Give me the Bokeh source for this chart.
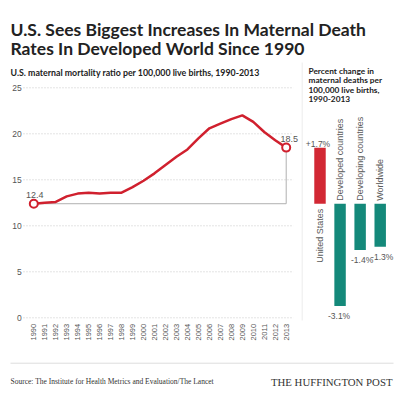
import math
from bokeh.plotting import figure
from bokeh.models import Range1d, Label, ColumnDataSource
from bokeh.core.properties import value
from bokeh.embed import file_html
from bokeh.resources import INLINE

# ---------------- data ----------------
years = list(range(1990, 2014))
us_mmr = [12.4, 12.5, 12.6, 13.2, 13.5, 13.6, 13.5, 13.6, 13.6, 14.2, 14.9, 15.7,
          16.6, 17.5, 18.3, 19.5, 20.6, 21.1, 21.6, 22.0, 21.3, 20.2, 19.3, 18.5]
y_ticks = [0, 5, 10, 15, 20, 25]

categories = ["United States", "Developed countries", "Developing countries", "Worldwide"]
pct_change = [1.7, -3.1, -1.4, -1.3]
pct_labels = ["+1.7%", "-3.1%", "-1.4%", "-1.3%"]

title_lines = ["U.S. Sees Biggest Increases In Maternal Death",
               "Rates In Developed World Since 1990"]
subtitle = "U.S. maternal mortality ratio per 100,000 live births, 1990-2013"
bar_title = ["Percent change in", "maternal deaths per", "100,000 live births,", "1990-2013"]
source_text = "Source: The Institute for Health Metrics and Evaluation/The Lancet"
brand = "THE HUFFINGTON POST"

# ---------------- layout (pixels) ----------------
W, H = 400, 394
def sx(ref_x):            # page x -> canvas x
    return ref_x
def sy(ref_y):            # page y (from top) -> canvas y from bottom
    return H - ref_y

# line chart pixel anchors
yr_px0, yr_px1 = sx(33.3), sx(285.7)
v_zero_px, v_px_per = sy(317.3), 9.2
# bar chart pixel anchors
bar_px0, bar_px1 = sx(319.5), sx(379.7)
b_zero_px, b_px_per = sy(203.3), 33.0

ppy = (yr_px1 - yr_px0) / (years[-1] - years[0])
x_start = years[0] - yr_px0 / ppy
x_end = x_start + W / ppy
y_start = -v_zero_px / v_px_per
y_end = y_start + H / v_px_per

idx = list(range(len(categories)))
ppb = (bar_px1 - bar_px0) / (idx[-1] - idx[0])
bx_start = idx[0] - bar_px0 / ppb
bx_end = bx_start + W / ppb
by_start = -b_zero_px / b_px_per
by_end = by_start + H / b_px_per

p = figure(width=W, height=H, x_range=Range1d(x_start, x_end), y_range=Range1d(y_start, y_end),
           x_axis_type=None, y_axis_type=None, toolbar_location=None, output_backend="svg",
           min_border=0, outline_line_color=None, background_fill_color="white",
           border_fill_color="white")
p.extra_x_ranges = {"bars": Range1d(bx_start, bx_end)}
p.extra_y_ranges = {"pct": Range1d(by_start, by_end)}
p.xgrid.visible = False
p.ygrid.visible = False

SANS = "Liberation Sans"
HEAD = "Lato"

# grid lines (dotted)
p.segment(x0=[years[0] - 0.94] * len(y_ticks), x1=[years[-1] + 0.67] * len(y_ticks),
          y0=y_ticks, y1=y_ticks, line_color="#c8c8c8", line_width=1, line_dash="1 2")

# y tick labels
p.text(x=[years[0]] * len(y_ticks), y=y_ticks, text=[str(t) for t in y_ticks],
       x_offset=-12, text_align="right", text_baseline="middle",
       text_font=value(SANS), text_font_size="8.5px", text_color="#555555")

# x tick labels (rotated)
p.text(x=years, y=[0] * len(years), text=[str(y) for y in years], angle=math.pi / 2,
       y_offset=6, text_align="right", text_baseline="middle",
       text_font=value(SANS), text_font_size="7.5px", text_color="#555555")

# annotation connector (gray)
p.line(x=[years[0], years[-1], years[-1]], y=[us_mmr[0], us_mmr[0], us_mmr[-1]],
       line_color="#b0b0b0", line_width=1)

# main line
p.line(x=years, y=us_mmr, line_color="#d0202e", line_width=2.5)
p.scatter(x=[years[0], years[-1]], y=[us_mmr[0], us_mmr[-1]], size=8,
          fill_color="white", line_color="#d0202e", line_width=2)
p.text(x=[years[0], years[-1]], y=[us_mmr[0], us_mmr[-1]],
       text=[f"{us_mmr[0]:.1f}", f"{us_mmr[-1]:.1f}"], x_offset=[1, 3], y_offset=-9,
       text_align="center", text_baseline="alphabetic",
       text_font=value(SANS), text_font_size="9px", text_color="#555555")

# separator line between panels
sep_x = bx_start + sx(301.7) / ppb
p.segment(x0=[sep_x], x1=[sep_x],
          y0=[by_start + sy(320) / b_px_per], y1=[by_start + sy(62) / b_px_per],
          x_range_name="bars", y_range_name="pct", line_color="#ececec", line_width=1)

# bars
bar_colors = ["#d22834" if v > 0 else "#14897a" for v in pct_change]
bsrc = ColumnDataSource(dict(
    x=idx, top=pct_change, color=bar_colors, lab=pct_labels, cat=categories,
    lab_base=["alphabetic" if v > 0 else "top" for v in pct_change],
    lab_off=[-4 if v > 0 else 5 for v in pct_change],
    lab_dx=[-2, -1, 2, 2],
    cat_align=["right" if v > 0 else "left" for v in pct_change],
    cat_off=[5 if v > 0 else -3 for v in pct_change],
))
p.vbar(x="x", top="top", bottom=0, width=0.57, fill_color="color", line_color=None,
       source=bsrc, x_range_name="bars", y_range_name="pct")
p.text(x="x", y="top", text="lab", text_baseline="lab_base", y_offset="lab_off",
       x_offset="lab_dx", text_align="center", source=bsrc,
       x_range_name="bars", y_range_name="pct",
       text_font=value(SANS), text_font_size="8.5px", text_color="#555555")
p.text(x="x", y=0, text="cat", angle=math.pi / 2, text_align="cat_align",
       text_baseline="middle", y_offset="cat_off", source=bsrc,
       x_range_name="bars", y_range_name="pct",
       text_font=value(SANS), text_font_size="9px", text_color="#5a5a5a")

# titles / texts
def add_label(txt, rx, ry, size, font, style="normal", color="#222222", align="left"):
    p.add_layout(Label(x=sx(rx), y=sy(ry), x_units="screen", y_units="screen", text=txt,
                       text_font=font, text_font_size=size, text_font_style=style,
                       text_color=color, text_align=align, text_baseline="alphabetic"))

add_label(title_lines[0], 10, 29, "17.5px", HEAD, "bold")
add_label(title_lines[1], 10, 47.7, "17.5px", HEAD, "bold")
add_label(subtitle, 10, 72, "8.8px", HEAD, "bold")
for i, t in enumerate(bar_title):
    add_label(t, 308, 70.5 + 9.3 * i, "8.3px", HEAD, "bold")
add_label(source_text, 10, 380.5, "7.5px", "Liberation Serif", color="#333333")
add_label(brand, 392, 381, "10.8px", "Liberation Serif", color="#333333", align="right")

# bottom rule
rule_y = y_start + sy(362.7) / v_px_per
p.segment(x0=[x_start + sx(10) / ppy], x1=[x_start + sx(393) / ppy],
          y0=[rule_y], y1=[rule_y], line_color="#dddddd", line_width=1)

open("out.html", "w").write(file_html(p, INLINE))
